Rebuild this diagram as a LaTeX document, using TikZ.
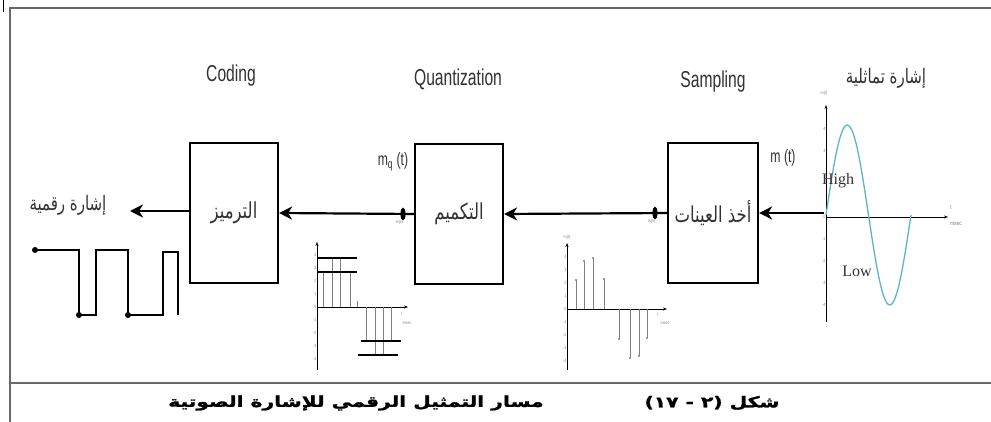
\documentclass[tikz,border=0pt]{standalone}
\usepackage{fontspec}
\setmainfont{Liberation Serif}
\newfontfamily\narrowsans[FakeStretch=0.82]{Liberation Sans}
\newfontfamily\titlesans[FakeStretch=0.68]{Liberation Sans}
\newfontfamily\arabicfont[Script=Arabic, FakeStretch=0.75]{DejaVu Sans}
\newfontfamily\captionfont[Script=Arabic, FakeStretch=1.35, FakeBold=1.5]{DejaVu Sans Bold}
\TeXXeTstate=1
\usetikzlibrary{arrows.meta, positioning, shapes.geometric}
\definecolor{sinecyan}{RGB}{95, 178, 205}
\definecolor{framegray}{RGB}{105, 105, 105}
\definecolor{titlegray}{RGB}{50, 50, 50}

\begin{document}
\begin{tikzpicture}[x=1pt, y=-1pt,
  stagebox/.style={draw, line width=2.2pt, minimum width=88pt, minimum height=140pt, inner sep=0pt, font=\arabicfont\fontsize{22}{24}\selectfont, text=titlegray},
  flow/.style={line width=2.2pt, -{Stealth[length=13pt, width=13pt, inset=4pt]}},
  dotmark/.style={ellipse, fill=black, minimum width=5pt, minimum height=13pt, inner sep=0pt},
  steptitle/.style={font=\titlesans\fontsize{23}{26}\selectfont, text=titlegray},
  sigtext/.style={font=\titlesans\fontsize{18}{20}\selectfont, text=titlegray},
  arabtitle/.style={font=\arabicfont\fontsize{20}{22}\selectfont, text=titlegray},
  tinytext/.style={font=\narrowsans\fontsize{4.5}{5}\selectfont, text=gray, inner sep=0.5pt},
  axis/.style={line width=0.6pt, -{Stealth[length=4pt, width=3pt]}},
  stem/.style={line width=0.4pt, gray},
  level/.style={line width=1.4pt}]
  \useasboundingbox (0,0) rectangle (991,422);

  % Frame
  \draw[line width=0.8pt] (3,0) -- (3,12);
  \draw[line width=1.6pt, framegray] (10,422) -- (10,8) -- (991,8);
  \draw[line width=1.6pt, framegray] (10,383) -- (991,383);

  % Step titles
  \node[steptitle] (tcode) at (231,76) {Coding};
  \node[steptitle] (tquant) at (458,79) {Quantization};
  \node[steptitle] (tsamp) at (713,82) {Sampling};
  \node[arabtitle] (tanalog) at (886,78) {\beginR إشارة تماثلية\endR};

  % Stages
  \node[stagebox] (code) at (234,213) {\beginR الترميز\endR};
  \node[stagebox] (quant) at (459,214) {\beginR التكميم\endR};
  \node[stagebox, minimum width=90pt] (samp) at (713,213) {\beginR أخذ العينات\endR};

  % Flow
  \coordinate (in) at (824,213);
  \coordinate (out) at (130,211);
  \draw[flow] (in) -- (samp.east);
  \draw[flow] (samp.west) -- (quant.east);
  \draw[flow] (quant.west) -- (code.east);
  \draw[flow] (code.west |- out) -- (out);
  \node[dotmark] (msmark) at (655,213) {};
  \node[dotmark] (mqmark) at (403,214) {};
  \node[tinytext, below left=1pt and -3pt of msmark] (mslabel) {m(n)};
  \node[tinytext, below left=1pt and -3pt of mqmark] (mqlabel) {m(n)};
  \node[sigtext] (mt) at (783,158) {m (t)};
  \node[sigtext] (mqt) at (393,162) {m\textsubscript{q} (t)};
  \node[arabtitle] (tdigital) at (68,205) {\beginR إشارة رقمية\endR};

  % Digital signal
  \draw[line width=1.8pt] (35,250) -- (79,250) -- (79,315) -- (96,315) -- (96,250) -- (128,250) -- (128,315) -- (163,315) -- (163,252) -- (178,252) -- (178,315);
  \fill (35,250) circle (3pt) (79,315) circle (3pt) (128,315) circle (3pt);

  % Quantized samples
  \draw[axis] (317,370) -- (317,242);
  \draw[axis] (317,307) -- (408,307);
  \foreach \sx/\sy in {323/272, 332/258, 340/258, 350/272, 357/301, 366/341, 375/355, 383/355, 391/341}
    \draw[stem] (\sx,307) -- (\sx,\sy);
  \draw[level] (317,258) -- (357,258);
  \draw[level] (317,272) -- (357,272);
  \draw[level] (361,341) -- (401,341);
  \draw[level] (358,355) -- (398,355);
  \foreach \v in {-4,...,4}
    \node[tinytext, left] at (317,307-13*\v) {\v};
  \node[tinytext] at (402,314) {t};
  \node[tinytext] at (407,323) {msec};

  % Samples
  \draw[axis] (567,370) -- (567,243);
  \draw[axis] (567,309) -- (667,309);
  \foreach \sx/\sy in {576/280, 584/261, 593/258, 604/279, 619/339, 630/358, 639/356, 647/338} {
    \draw[stem] (\sx,309) -- (\sx,\sy);
    \fill[gray] (\sx,\sy) circle (1.2pt);
  }
  \foreach \v in {-4,...,4}
    \node[tinytext, left] at (567,309-13*\v) {\v};
  \node[tinytext] at (567,237) {m(t)};
  \node[tinytext] at (658,315) {t};
  \node[tinytext] at (665,323) {msec};

  % Analog signal
  \draw[axis] (826,322) -- (826,105);
  \draw[axis] (826,217) -- (948,217);
  \foreach \v in {-4,...,0,3,4}
    \node[tinytext, left] at (826,217-22*\v) {\v};
  \node[tinytext] at (824,93) {m(t)};
  \node[tinytext, font=\narrowsans\fontsize{6}{7}\selectfont] at (951,208) {t};
  \node[tinytext, font=\narrowsans\fontsize{6}{7}\selectfont] at (956,224) {msec};
  \draw[sinecyan, line width=1.3pt] plot[domain=0:360, samples=80] ({826+0.2361*\x}, {215-90*sin(\x)});
  \node[font=\fontsize{16}{18}\selectfont, text=titlegray] (high) at (838,181) {High};
  \node[font=\fontsize{16}{18}\selectfont, text=titlegray] (low) at (857,271) {Low};

  % Caption
  \node[font=\captionfont\fontsize{15}{17}\selectfont] (figno) at (712,403) {\beginR شكل (٢ - ١٧)\endR};
  \node[font=\captionfont\fontsize{15}{17}\selectfont] (figtitle) at (356,403) {\beginR مسار التمثيل الرقمي للإشارة الصوتية\endR};
\end{tikzpicture}
\end{document}
